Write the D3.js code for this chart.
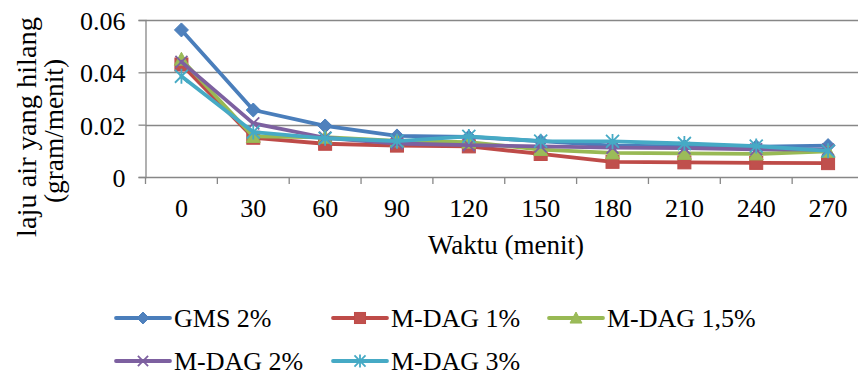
<!DOCTYPE html>
<html><head><meta charset="utf-8">
<script src="https://cdn.jsdelivr.net/npm/d3@7"></script>
<style>
html,body{margin:0;padding:0;background:#fff;}
svg{display:block;}
svg text{font-family:"Liberation Serif","Times New Roman",serif !important;fill:#000;}
</style></head>
<body>
<svg id="chart" width="858" height="374"></svg>
<script>
const times = ["0","30","60","90","120","150","180","210","240","270"];
const gms2   = [0.0562,0.0256,0.0195,0.0157,0.0153,0.0137,0.0120,0.0117,0.0116,0.0120];
const mdag1  = [0.0430,0.0150,0.0127,0.0120,0.0117,0.0088,0.0058,0.0056,0.0054,0.0053];
const mdag15 = [0.0450,0.0155,0.0152,0.0138,0.0133,0.0105,0.0092,0.0090,0.0088,0.0098];
const mdag2  = [0.0440,0.0205,0.0150,0.0128,0.0122,0.0117,0.0112,0.0110,0.0106,0.0105];
const mdag3  = [0.0385,0.0172,0.0148,0.0137,0.0155,0.0137,0.0136,0.0128,0.0118,0.0100];
const seriesNames = ["GMS 2%","M-DAG 1%","M-DAG 1,5%","M-DAG 2%","M-DAG 3%"];
const yTicks = [0,0.02,0.04,0.06];
const yTickLabels = ["0","0.02","0.04","0.06"];

const series = [
  {name:seriesNames[0], values:gms2,   color:"#4A7EBB", fill:"#4F81BD", marker:"diamond"},
  {name:seriesNames[1], values:mdag1,  color:"#BE4B48", fill:"#C0504D", marker:"square"},
  {name:seriesNames[2], values:mdag15, color:"#98B954", fill:"#9BBB59", marker:"triangle"},
  {name:seriesNames[3], values:mdag2,  color:"#7D60A0", fill:"#8064A2", marker:"x"},
  {name:seriesNames[4], values:mdag3,  color:"#46AAC5", fill:"#4BACC6", marker:"star"}
];

const svg = d3.select("#chart");
const L = 145.5, R = 864, T = 20, B = 177;
const x = d3.scaleBand().domain(times).range([L, R]);
const y = d3.scaleLinear().domain([0,0.06]).range([B, T]);
const grid = "#878787";

// gridlines
svg.append("g").selectAll("line").data(yTicks.slice(1)).join("line")
  .attr("x1", L).attr("x2", R)
  .attr("y1", d => Math.round(y(d))+0.5).attr("y2", d => Math.round(y(d))+0.5)
  .attr("stroke", grid).attr("stroke-width", 1.3);

// y axis
const yAxis = svg.append("g").attr("transform", `translate(${L},0)`)
  .call(d3.axisLeft(y).tickValues(yTicks).tickSize(7).tickFormat((d,i)=>yTickLabels[i]));
yAxis.attr("font-family", null).attr("font-size", null);
yAxis.select(".domain").attr("stroke", grid).attr("stroke-width",1.3);
yAxis.selectAll(".tick line").attr("stroke", grid).attr("stroke-width",1.3);
yAxis.selectAll(".tick text").attr("x", -20).attr("dy","0.36em")
  .attr("font-size", 26).attr("fill","#000");

// x axis
const xAxis = svg.append("g").attr("transform", `translate(0,${B})`)
  .call(d3.axisBottom(x).tickSize(0).tickPadding(0));
xAxis.attr("font-family", null).attr("font-size", null);
xAxis.select(".domain").attr("stroke", grid).attr("stroke-width",1.3);
xAxis.selectAll(".tick text").attr("y", 40).attr("dy", 0)
  .attr("font-size", 26).attr("fill","#000");
// category boundary ticks
const bounds = times.map(t => x(t)).concat([R]);
svg.append("g").selectAll("line").data(bounds).join("line")
  .attr("x1", d=>d).attr("x2", d=>d).attr("y1", B).attr("y2", B+7)
  .attr("stroke", grid).attr("stroke-width",1.3);

// marker drawing
function drawMarker(g, type, cx, cy, s) {
  const sz = s.ms || 1;
  if (type==="diamond") {
    const r = 7*sz;
    g.append("path").attr("d", `M${cx},${cy-r}L${cx+r},${cy}L${cx},${cy+r}L${cx-r},${cy}Z`)
      .attr("fill", s.fill).attr("stroke", s.color).attr("stroke-width",1);
  } else if (type==="square") {
    const r = 6.5*sz;
    g.append("rect").attr("x", cx-r).attr("y", cy-r).attr("width", 2*r).attr("height", 2*r)
      .attr("fill", s.fill).attr("stroke", s.color).attr("stroke-width",1);
  } else if (type==="triangle") {
    const r = 7*sz;
    g.append("path").attr("d", `M${cx},${cy-r}L${cx+r},${cy+r*0.85}L${cx-r},${cy+r*0.85}Z`)
      .attr("fill", s.fill).attr("stroke", s.color).attr("stroke-width",1);
  } else if (type==="x") {
    const r = 6*sz;
    g.append("path").attr("d", `M${cx-r},${cy-r}L${cx+r},${cy+r}M${cx+r},${cy-r}L${cx-r},${cy+r}`)
      .attr("stroke", s.color).attr("stroke-width",1.8).attr("fill","none");
  } else if (type==="star") {
    const r = 6.5*sz;
    g.append("path").attr("d", `M${cx-r},${cy-r}L${cx+r},${cy+r}M${cx+r},${cy-r}L${cx-r},${cy+r}M${cx},${cy-r-1}L${cx},${cy+r+1}`)
      .attr("stroke", s.color).attr("stroke-width",1.8).attr("fill","none");
  }
}

const line = d3.line().x((d,i)=>x(times[i])+x.bandwidth()/2).y(d=>y(d));
series.forEach(s => {
  const g = svg.append("g");
  g.append("path").datum(s.values).attr("d", line)
    .attr("fill","none").attr("stroke", s.color).attr("stroke-width",3.8)
    .attr("stroke-linejoin","round").attr("stroke-linecap","round");
  s.values.forEach((v,i) => drawMarker(g, s.marker, x(times[i])+x.bandwidth()/2, y(v), s));
});

// axis titles
svg.append("text").attr("x", 506).attr("y", 254).attr("text-anchor","middle")
  .attr("font-size", 27).attr("textLength",156).attr("lengthAdjust","spacingAndGlyphs")
  .text("Waktu (menit)");
svg.append("text").attr("transform","translate(36,127) rotate(-90)").attr("text-anchor","middle")
  .attr("font-size", 28).attr("textLength",220).attr("lengthAdjust","spacingAndGlyphs")
  .text("laju air yang hilang");
svg.append("text").attr("transform","translate(63,131) rotate(-90)").attr("text-anchor","middle")
  .attr("font-size", 28).attr("textLength",144).attr("lengthAdjust","spacingAndGlyphs")
  .text("(gram/menit)");

// legend
const legPos = [[116,318],[333,318],[549,318],[116,361],[333,361]];
series.forEach((s,i) => {
  const [lx, ly] = legPos[i];
  const g = svg.append("g");
  g.append("line").attr("x1", lx).attr("x2", lx+54).attr("y1", ly).attr("y2", ly)
    .attr("stroke", s.color).attr("stroke-width",3.8).attr("stroke-linecap","round");
  drawMarker(g, s.marker, lx+27, ly, Object.assign({}, s, {ms:0.85}));
  g.append("text").attr("x", lx+58).attr("y", ly+8.5).attr("font-size", 26).text(s.name);
});
</script>
</body></html>
